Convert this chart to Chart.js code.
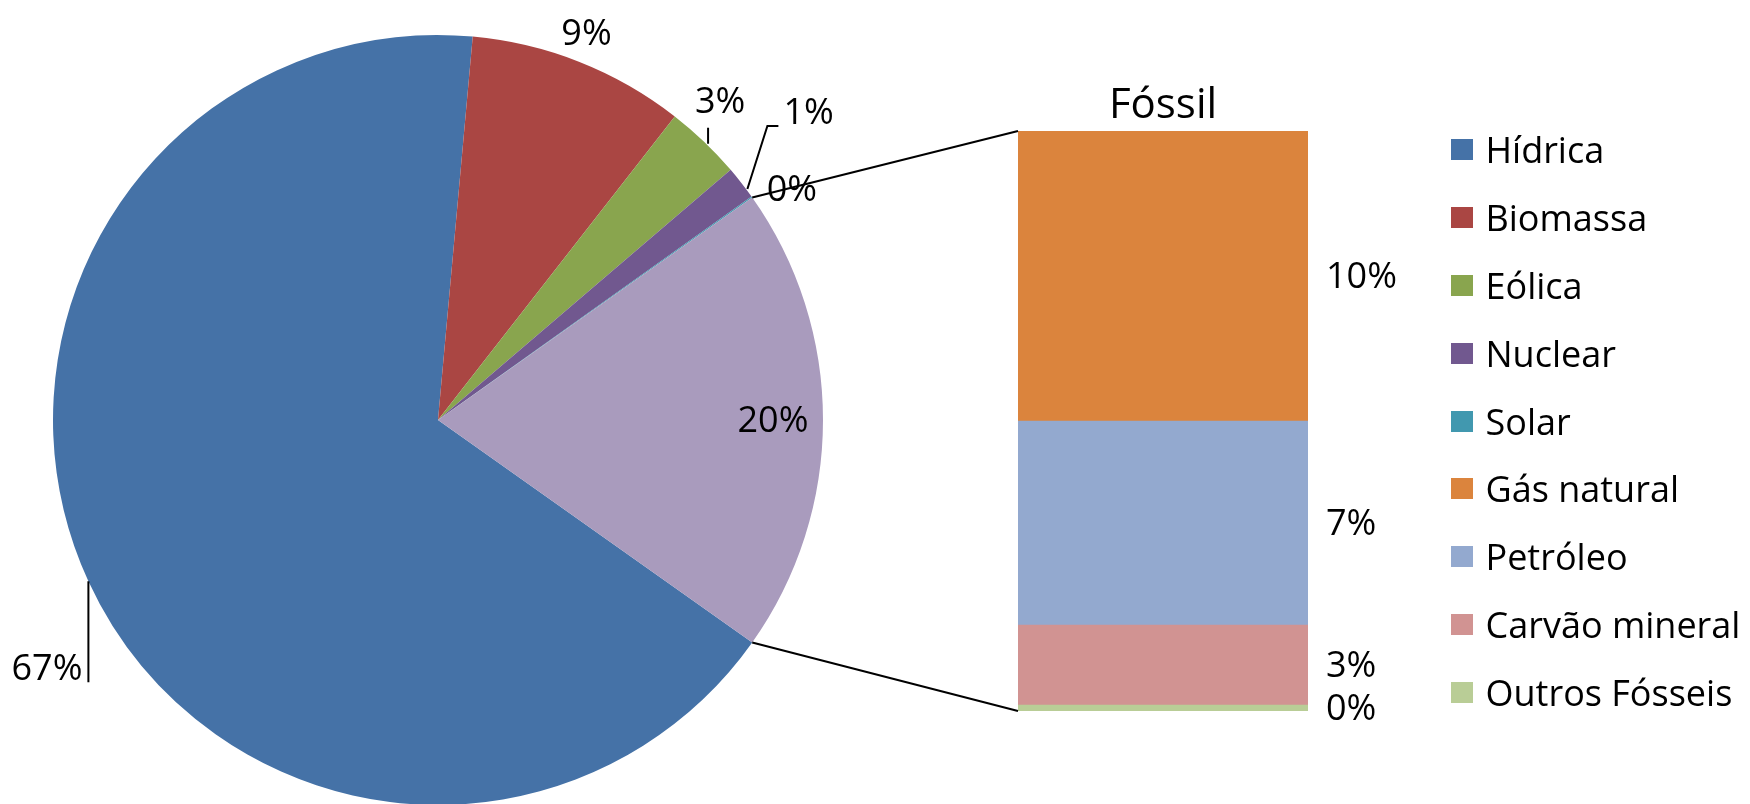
<!DOCTYPE html>
<html lang="pt">
<head>
  <meta charset="UTF-8">
  <title>Matriz elétrica – Fóssil</title>
  <style>
    body {
      margin: 0;
      background: #ffffff;
      font-family: 'Open Sans', sans-serif;
      overflow: hidden;
    }

    .stage {
      position: relative;
      width: 1750px;
      height: 804px;
    }

    .stage canvas {
      position: absolute;
      left: 0;
      top: 0;
    }

    #legend {
      position: absolute;
      left: 1451px;
      top: 116px;
    }

    #legend div {
      display: flex;
      align-items: center;
      height: 67.8px;
      font-size: 36px;
      font-weight: 500;
      color: #000;
      white-space: nowrap;
    }

    #legend .box {
      width: 22px;
      height: 21px;
      margin-right: 12.5px;
    }
  </style>
</head>

<body>
  <div class="stage">
    <canvas id="pieCanvas" width="1750" height="804"></canvas>
    <canvas id="barCanvas" width="1750" height="804"></canvas>
    <div id="legend"></div>
  </div>

  <script src="https://cdn.jsdelivr.net/npm/chart.js"></script>
  <script>
    // pie slices (the last slice, Fóssil, is the sum of the bar below)
    const pieLabels = ['Hídrica', 'Biomassa', 'Eólica', 'Nuclear', 'Solar'];
    const pieValues = [66.6, 9.1, 3.2, 1.4, 0.05];
    const pieColors = ['#4572A7', '#AA4643', '#89A54E', '#71588F', '#4198AF'];
    const fossilName = 'Fóssil';
    const fossilSliceColor = '#A99BBD';

    // breakdown of the fossil slice
    const fossilLabels = ['Gás natural', 'Petróleo', 'Carvão mineral', 'Outros Fósseis'];
    const fossilValues = [9.8, 6.9, 2.7, 0.2];
    const fossilColors = ['#DB843D', '#93A9CF', '#D19392', '#B9CD96'];

    const FONT = '500 36px "Open Sans"';
    const fossilTotal = fossilValues.reduce((a, b) => a + b, 0);
    const total = pieValues.reduce((a, b) => a + b, 0) + fossilTotal;
    const pct = v => Math.round(v / total * 100) + '%';

    // fossil slice centred on 3 o'clock, like Excel's bar-of-pie
    const fossilDeg = fossilTotal / total * 360;

    const pieLabelPlugin = {
      id: 'pieLabels',
      afterDraw(chart) {
        const ctx = chart.ctx;
        const arcs = chart.getDatasetMeta(0).data;
        const values = chart.data.datasets[0].data;
        ctx.save();
        ctx.font = FONT;
        ctx.fillStyle = '#000';
        ctx.strokeStyle = '#000';
        ctx.lineWidth = 2;
        ctx.textBaseline = 'middle';
        arcs.forEach((arc, i) => {
          const mid = (arc.startAngle + arc.endAngle) / 2;
          const r = arc.outerRadius;
          const mx = arc.x + Math.cos(mid) * r;
          const my = arc.y + Math.sin(mid) * r;
          const text = pct(values[i]);
          if (i === 0) {
            // leader straight down, label on its left
            ctx.beginPath();
            ctx.moveTo(mx, my);
            ctx.lineTo(mx, my + 101);
            ctx.stroke();
            ctx.textAlign = 'right';
            ctx.fillText(text, mx - 6, my + 88);
          } else if (i === 1) {
            ctx.textAlign = 'center';
            ctx.fillText(text, mx + 7, my - 27);
          } else if (i === 2) {
            ctx.beginPath();
            ctx.moveTo(mx + 4, my + 2);
            ctx.lineTo(mx + 4, my - 14);
            ctx.stroke();
            ctx.textAlign = 'center';
            ctx.fillText(text, mx + 16, my - 39);
          } else if (i === 3) {
            const ex = mx + 26, ey = my - 57;
            ctx.beginPath();
            ctx.moveTo(mx + 6, my + 6);
            ctx.lineTo(ex, ey);
            ctx.lineTo(ex + 11, ey);
            ctx.stroke();
            ctx.textAlign = 'left';
            ctx.fillText(text, ex + 16, ey - 12);
          } else if (i === 4) {
            ctx.textAlign = 'center';
            ctx.fillText(text, mx + 40, my - 6);
          } else {
            const ir = r * 0.87;
            ctx.textAlign = 'center';
            ctx.fillText(text, arc.x + Math.cos(mid) * ir, arc.y + Math.sin(mid) * ir + 2);
          }
        });
        ctx.restore();
      }
    };

    const pieChart = new Chart(document.getElementById('pieCanvas'), {
      type: 'pie',
      data: {
        labels: [...pieLabels, fossilName],
        datasets: [{
          data: [...pieValues, fossilTotal],
          backgroundColor: [...pieColors, fossilSliceColor],
          borderWidth: 0,
          hoverOffset: 0
        }]
      },
      options: {
        responsive: false,
        animation: false,
        radius: 385,
        rotation: 90 + fossilDeg / 2,
        layout: { padding: { left: 0, right: 874, top: 36, bottom: 0 } },
        plugins: {
          legend: { display: false },
          tooltip: { enabled: false }
        }
      },
      plugins: [pieLabelPlugin]
    });

    const barLabelPlugin = {
      id: 'barLabels',
      afterDraw(chart) {
        const ctx = chart.ctx;
        ctx.save();
        ctx.font = FONT;
        ctx.fillStyle = '#000';
        ctx.textBaseline = 'middle';
        ctx.textAlign = 'left';
        let top = null, bottom = null;
        chart.data.datasets.forEach((ds, i) => {
          const el = chart.getDatasetMeta(i).data[0];
          const left = el.x - el.width / 2;
          if (!top || el.y < top.y) top = { x: left, y: el.y };
          if (!bottom || el.base > bottom.y) bottom = { x: left, y: el.base };
          ctx.fillText(pct(ds.data[0]), el.x + el.width / 2 + 18, (el.y + el.base) / 2 + 2);
        });

        // connectors from the fossil slice to the bar
        const pieMeta = Chart.getChart('pieCanvas').getDatasetMeta(0);
        const arc = pieMeta.data[pieMeta.data.length - 1];
        const r = arc.outerRadius;
        ctx.strokeStyle = '#000';
        ctx.lineWidth = 2;
        ctx.beginPath();
        ctx.moveTo(arc.x + Math.cos(arc.startAngle) * r, arc.y + Math.sin(arc.startAngle) * r);
        ctx.lineTo(top.x, top.y);
        ctx.moveTo(arc.x + Math.cos(arc.endAngle) * r, arc.y + Math.sin(arc.endAngle) * r);
        ctx.lineTo(bottom.x, bottom.y);
        ctx.stroke();
        ctx.restore();
      }
    };

    // first dataset sits at the bottom of the stack, so reverse
    const barDatasets = fossilLabels.map((label, i) => ({
      label: label,
      data: [fossilValues[i]],
      backgroundColor: fossilColors[i],
      borderWidth: 0,
      barPercentage: 1,
      categoryPercentage: 1
    })).reverse();

    const barChart = new Chart(document.getElementById('barCanvas'), {
      type: 'bar',
      data: { labels: [fossilName], datasets: barDatasets },
      options: {
        responsive: false,
        animation: false,
        layout: { padding: { left: 1018, right: 442, top: 80.6, bottom: 93 } },
        scales: {
          x: { stacked: true, display: false },
          y: { stacked: true, display: false, min: 0, max: fossilTotal }
        },
        plugins: {
          legend: { display: false },
          tooltip: { enabled: false },
          title: {
            display: true,
            text: fossilName,
            color: '#000',
            font: { family: 'Open Sans', size: 42, weight: 500 },
            padding: { top: 0, bottom: 0 }
          }
        }
      },
      plugins: [barLabelPlugin]
    });

    // legend: pie slices then the fossil breakdown
    const legendEl = document.getElementById('legend');
    [...pieLabels, ...fossilLabels].forEach((label, i) => {
      const color = [...pieColors, ...fossilColors][i];
      const row = document.createElement('div');
      row.innerHTML = '<span class="box" style="background:' + color + '"></span>' + label;
      legendEl.appendChild(row);
    });
  </script>
</body>

</html>
